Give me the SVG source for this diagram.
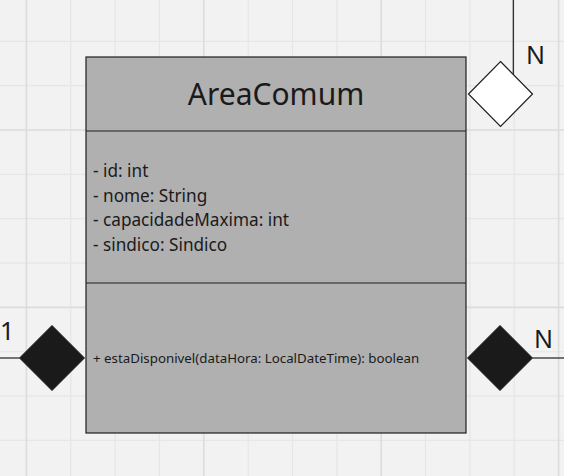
<svg xmlns="http://www.w3.org/2000/svg" width="564" height="476" viewBox="0 0 564 476">
<style>
.minor{stroke:#e6e6e6;stroke-width:1.2;fill:none}
.major{stroke:#dcdcdc;stroke-width:1.6;fill:none}
.box{fill:#b0b0b0;stroke:#1e1e1e;stroke-width:1.2}
.edge{stroke:#1e1e1e;stroke-width:1.2;fill:none}
.t{font-family:"Noto Sans","Open Sans","DejaVu Sans",sans-serif;fill:#1a1a1a}
.title{font-size:30px}
.attr{font-size:17.2px}
.meth{font-size:13.3px}
.lbl{font-size:25px}
.dia-w{fill:#ffffff;stroke:#1e1e1e;stroke-width:1.2}
.dia-b{fill:#1a1a1a;stroke:#1a1a1a;stroke-width:1}
</style>
<rect x="0" y="0" width="564" height="476" fill="#f2f2f2"/>
<g id="grid">
<path class="minor" d="M70.75 0V476M115.1 0V476M159.45 0V476M248.15 0V476M292.5 0V476M336.85 0V476M425.55 0V476M469.9 0V476M514.25 0V476M0 41.3H564M0 85.65H564M0 174.35H564M0 218.7H564M0 263.05H564M0 351.75H564M0 396.1H564M0 440.45H564"/>
<path class="major" d="M26.4 0V476M203.8 0V476M381.2 0V476M558.6 0V476M0 130H564M0 307.4H564"/>
</g>
<g id="connectors">
<path class="edge" d="M513.3 0V75"/>
<path class="edge" d="M0 358H19.5"/>
<path class="edge" d="M532.5 358H564"/>
</g>
<g id="AreaComum">
<rect class="box" x="86" y="57" width="380" height="376"/>
<line class="edge" x1="86" y1="131" x2="466" y2="131"/>
<line class="edge" x1="86" y1="283" x2="466" y2="283"/>
<text class="t title" x="276" y="105" text-anchor="middle">AreaComum</text>
<text class="t attr" x="93" y="177.3">- id: int</text>
<text class="t attr" x="93" y="201.7">- nome: String</text>
<text class="t attr" x="93" y="226">- capacidadeMaxima: int</text>
<text class="t attr" x="93" y="250.5">- sindico: Sindico</text>
<text class="t meth" x="93" y="362.7">+ estaDisponivel(dataHora: LocalDateTime): boolean</text>
</g>
<g id="diamond-top">
<polygon class="dia-w" points="500.5,61.5 532.5,94 500.5,126.5 468.5,94"/>
<text class="t lbl" x="526" y="64">N</text>
</g>
<g id="diamond-left">
<polygon class="dia-b" points="52,325.5 84.5,358 52,390.5 19.5,358"/>
<text class="t lbl" x="0" y="340">1</text>
</g>
<g id="diamond-right">
<polygon class="dia-b" points="500,325.5 532.5,358 500,390.5 467.5,358"/>
<text class="t lbl" x="534" y="348">N</text>
</g>
</svg>
